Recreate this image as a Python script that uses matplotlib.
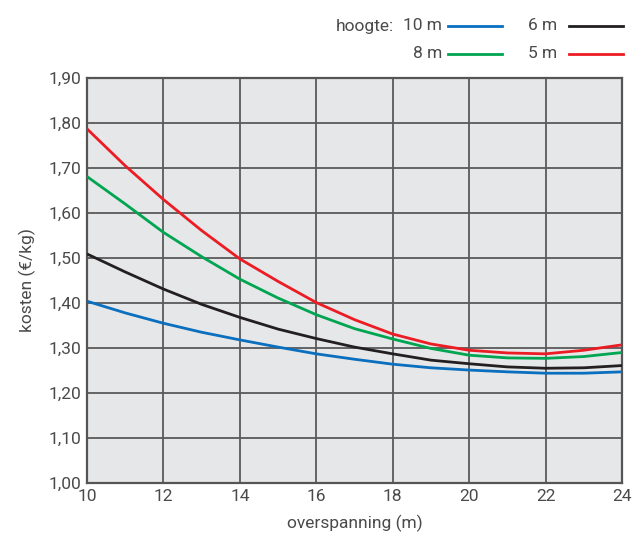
import matplotlib
matplotlib.use("Agg")
import matplotlib.pyplot as plt
from matplotlib.lines import Line2D
from matplotlib.ticker import FuncFormatter

plt.rcParams['font.family'] = ['Roboto', 'DejaVu Sans']

# span (m) and cost (EUR/kg) per column height
overspanning = [10, 11, 12, 13, 14, 15, 16, 17, 18, 19, 20, 21, 22, 23, 24]
kosten_10m = [1.404, 1.378, 1.355, 1.335, 1.318, 1.302, 1.287, 1.275, 1.264, 1.256, 1.251, 1.247, 1.244, 1.244, 1.247]
kosten_8m = [1.681, 1.620, 1.557, 1.503, 1.453, 1.411, 1.374, 1.343, 1.320, 1.299, 1.284, 1.278, 1.277, 1.281, 1.290]
kosten_6m = [1.509, 1.469, 1.431, 1.397, 1.368, 1.342, 1.321, 1.302, 1.287, 1.273, 1.265, 1.258, 1.255, 1.256, 1.261]
kosten_5m = [1.787, 1.705, 1.630, 1.561, 1.498, 1.448, 1.401, 1.363, 1.331, 1.309, 1.295, 1.289, 1.287, 1.295, 1.307]

series = [
    ("10 m", kosten_10m, "#0a6fbe"),
    ("8 m", kosten_8m, "#00a551"),
    ("6 m", kosten_6m, "#231f20"),
    ("5 m", kosten_5m, "#ec1c24"),
]

W, H = 633, 536
fig = plt.figure(figsize=(W / 100, H / 100), dpi=100)
left, right, top, bottom = 87, 622, 78, 483
ax = fig.add_axes([left / W, 1 - bottom / H, (right - left) / W, (bottom - top) / H])

text_col = "#4a4a4a"
fs = 12.5
ax.set_facecolor("#e6e7e8")
ax.grid(True, color="#5a5a5a", linewidth=1.3, zorder=0)
ax.set_axisbelow(True)
for sp in ax.spines.values():
    sp.set_color("#555555")
    sp.set_linewidth(1.6)

for label, vals, col in series:
    ax.plot(overspanning, vals, color=col, linewidth=2.0, zorder=3,
            solid_capstyle="butt", solid_joinstyle="round")

ax.set_xlim(10, 24)
ax.set_ylim(1.0, 1.9)
ax.set_xticks(range(10, 25, 2))
ax.set_yticks([1.0 + 0.1 * i for i in range(10)])
ax.yaxis.set_major_formatter(FuncFormatter(lambda v, p: f"{v:.2f}".replace(".", ",")))
ax.tick_params(length=0, labelsize=fs, labelcolor=text_col, pad=4)
ax.set_xlabel("overspanning (m)", fontsize=fs, color=text_col, labelpad=8)
ax.set_ylabel("kosten (€/kg)", fontsize=fs, color=text_col, labelpad=9)

# legend drawn as text + short line segments above the plot
def legend_item(text_right_px, y_px, line_x0, line_x1, color, text):
    fig.text(text_right_px / W, 1 - y_px / H, text, ha="right", va="center",
             fontsize=fs, color=text_col)
    fig.add_artist(Line2D([line_x0 / W, line_x1 / W], [1 - y_px / H, 1 - y_px / H],
                          color=color, linewidth=2.0, transform=fig.transFigure))

fig.text(394 / W, 1 - 26 / H, "hoogte:", ha="right", va="center", fontsize=fs, color=text_col)
legend_item(442, 26, 448, 502, series[0][2], series[0][0])
legend_item(557, 26, 569, 623, series[2][2], series[2][0])
legend_item(442, 54, 448, 502, series[1][2], series[1][0])
legend_item(557, 54, 569, 623, series[3][2], series[3][0])

fig.savefig("out.png", dpi=100, facecolor="white")
